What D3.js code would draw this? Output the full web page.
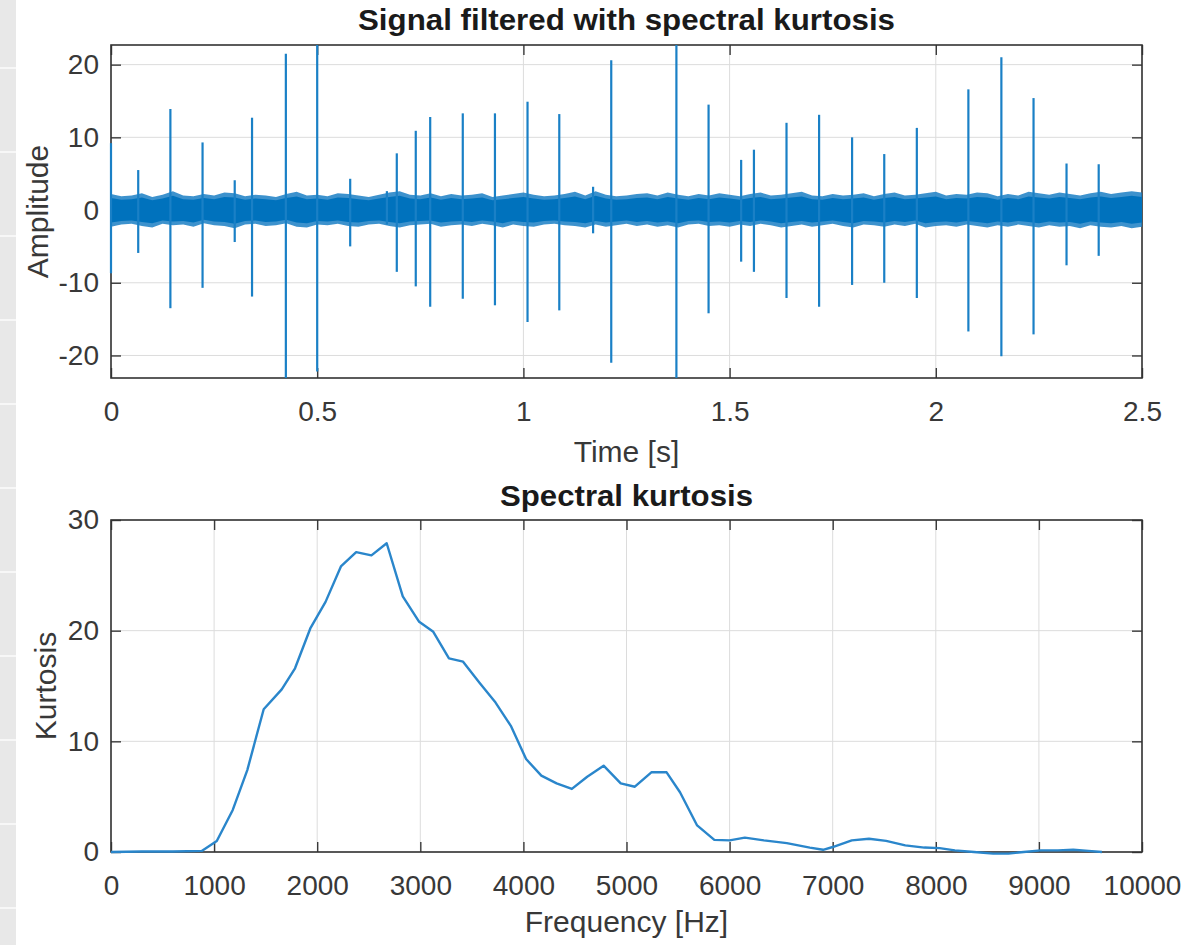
<!DOCTYPE html>
<html>
<head>
<meta charset="utf-8">
<script src="https://cdn.jsdelivr.net/npm/d3@7"></script>
<style>
  body { margin: 0; background: #fff; }
  svg { display: block; font-family: "Liberation Sans", Arial, sans-serif; }
</style>
</head>
<body>
<svg id="chart"></svg>
<script>
// spike events in the filtered signal: time [s], positive peak, negative peak
const spikeTimes = [0.000, 0.066, 0.144, 0.222, 0.300, 0.342, 0.424, 0.500, 0.580, 0.669,
  0.693, 0.739, 0.774, 0.853, 0.931, 1.010, 1.087, 1.169, 1.213, 1.371,
  1.449, 1.528, 1.559, 1.638, 1.717, 1.797, 1.875, 1.954, 2.079, 2.159,
  2.237, 2.317, 2.395];
const spikeHigh = [9.2, 5.5, 13.9, 9.3, 4.1, 12.7, 21.5, 22.7, 4.3, 2.6,
  7.8, 10.9, 12.8, 13.3, 13.3, 14.9, 13.2, 3.2, 20.6, 22.7,
  14.5, 6.9, 8.3, 12.0, 13.1, 10.0, 7.7, 11.3, 16.6, 21.0,
  15.4, 6.4, 6.3];
const spikeLow = [-8.7, -5.9, -13.5, -10.7, -4.4, -11.9, -23.1, -22.2, -5.0, -2.0,
  -8.5, -10.5, -13.3, -12.2, -13.1, -15.4, -13.8, -3.2, -21.0, -23.1,
  -14.2, -7.1, -8.5, -12.1, -13.3, -10.3, -10.0, -12.1, -16.7, -20.1,
  -17.1, -7.6, -6.3];

// background noise band, envelope read every 0.025 s
const noiseTimes = d3.range(0, 101).map(i => i * 0.025);
const noiseUpper = [2.2, 1.9, 2.0, 2.3, 1.8, 2.1, 2.6, 2.0, 1.9, 2.2,
  2.0, 2.4, 2.3, 1.9, 2.1, 2.0, 1.8, 2.2, 2.5, 2.0,
  2.1, 1.9, 2.3, 2.2, 2.0, 1.8, 2.1, 2.4, 2.6, 2.1,
  2.0, 2.3, 1.9, 2.2, 2.0, 2.1, 2.3, 1.8, 2.0, 2.2,
  2.4, 2.1, 1.9, 2.0, 2.2, 2.5, 2.0, 2.6, 2.1, 1.9,
  2.0, 2.2, 2.3, 2.0, 2.4, 2.1, 1.9, 2.2, 2.0, 2.3,
  2.1, 1.9, 2.2, 2.4, 2.0, 2.1, 2.3, 2.5, 2.0, 1.9,
  2.2, 2.0, 2.1, 2.3, 1.9, 2.2, 2.4, 2.0, 2.1, 2.3,
  2.5, 2.0, 2.2, 2.1, 2.4, 2.3, 1.9, 2.2, 2.0, 2.5,
  2.3, 2.1, 2.4, 2.2, 2.0, 2.3, 2.5, 2.2, 2.4, 2.6,
  2.4];
const noiseLower = [-2.3, -2.0, -1.9, -2.2, -2.4, -1.9, -2.1, -2.0, -2.3, -1.8,
  -2.1, -2.2, -2.5, -2.0, -1.9, -2.2, -2.1, -1.8, -2.3, -2.4,
  -2.0, -2.1, -1.9, -2.2, -2.3, -2.0, -1.9, -2.2, -2.4, -2.1,
  -2.0, -1.9, -2.3, -2.1, -2.0, -2.2, -1.9, -2.1, -2.4, -2.0,
  -2.2, -2.3, -2.0, -1.9, -2.1, -2.2, -2.4, -2.0, -2.3, -2.1,
  -1.9, -2.2, -2.0, -2.3, -2.1, -2.4, -2.0, -1.9, -2.2, -2.1,
  -2.3, -2.0, -2.2, -1.9, -2.1, -2.4, -2.2, -2.0, -2.3, -2.1,
  -1.9, -2.2, -2.4, -2.0, -2.1, -2.3, -2.0, -2.2, -1.9, -2.4,
  -2.2, -2.1, -2.3, -2.0, -2.2, -2.4, -2.1, -2.3, -2.0, -2.2,
  -2.4, -2.1, -2.3, -2.2, -2.5, -2.1, -2.3, -2.4, -2.2, -2.5,
  -2.3];

// spectral kurtosis curve
const freqs = [0, 300, 600, 880, 1026, 1181, 1322, 1481, 1656, 1785,
  1933, 2081, 2230, 2378, 2526, 2674, 2830, 2989, 3126, 3278,
  3415, 3574, 3730, 3878, 4026, 4174, 4322, 4470, 4619, 4778,
  4944, 5081, 5241, 5389, 5519, 5685, 5852, 6000, 6148, 6333,
  6555, 6778, 6907, 7000, 7185, 7352, 7518, 7704, 7889, 8037,
  8185, 8370, 8556, 8704, 8852, 9019, 9185, 9333, 9481, 9611];
const kurt = [0.0, 0.05, 0.05, 0.1, 1.0, 3.8, 7.4, 12.9, 14.7, 16.6,
  20.2, 22.6, 25.8, 27.1, 26.8, 27.9, 23.1, 20.8, 19.9, 17.5,
  17.2, 15.3, 13.5, 11.4, 8.4, 6.9, 6.2, 5.7, 6.8, 7.8,
  6.2, 5.9, 7.2, 7.2, 5.4, 2.4, 1.1, 1.05, 1.3, 1.05,
  0.8, 0.4, 0.2, 0.45, 1.05, 1.2, 1.0, 0.6, 0.4, 0.35,
  0.15, 0.0, -0.15, -0.15, 0.0, 0.15, 0.15, 0.2, 0.1, 0.0];

const timeTicks = [0, 0.5, 1, 1.5, 2, 2.5];
const ampTicks = [-20, -10, 0, 10, 20];
const freqTicks = d3.range(0, 10001, 1000);
const kurtTicks = [0, 10, 20, 30];

const width = 1186, height = 945;
const blue = "#0072bd";
const svg = d3.select("#chart").attr("width", width).attr("height", height);

// grey strip at the left edge of the screenshot
svg.append("rect").attr("x", 0).attr("y", 0).attr("width", 16).attr("height", height).attr("fill", "#e8e8e8");
svg.selectAll(".strip-gap")
    .data(d3.range(67, height, 84))
    .enter().append("rect")
    .attr("x", 0).attr("y", d => d).attr("width", 16).attr("height", 2)
    .attr("fill", "#f7f7f7");

function drawAxes(box, x, y, xTicks, yTicks, title, xLabel, yLabel, yLabelX) {
    const g = svg.append("g");
    const w = box.right - box.left, h = box.bottom - box.top;

    // grid
    g.append("g").selectAll("line").data(xTicks).enter().append("line")
        .attr("x1", d => x(d)).attr("x2", d => x(d))
        .attr("y1", box.top).attr("y2", box.bottom)
        .attr("stroke", "#dcdcdc").attr("stroke-width", 1);
    g.append("g").selectAll("line").data(yTicks).enter().append("line")
        .attr("x1", box.left).attr("x2", box.right)
        .attr("y1", d => y(d)).attr("y2", d => y(d))
        .attr("stroke", "#dcdcdc").attr("stroke-width", 1);

    const fmt = d => String(d).replace("\u2212", "-");

    const axes = [
        d3.axisBottom(x).tickValues(xTicks).tickSize(-10).tickPadding(23).tickFormat(fmt),
        d3.axisTop(x).tickValues(xTicks).tickSize(-10).tickFormat(""),
        d3.axisLeft(y).tickValues(yTicks).tickSize(-10).tickPadding(12).tickFormat(fmt),
        d3.axisRight(y).tickValues(yTicks).tickSize(-10).tickFormat("")
    ];
    const shifts = [[0, box.bottom], [0, box.top], [box.left, 0], [box.right, 0]];
    axes.forEach((ax, i) => {
        const a = svg.append("g")
            .attr("transform", `translate(${shifts[i][0]},${shifts[i][1]})`)
            .call(ax);
        a.select(".domain").remove();
        a.selectAll("line").attr("stroke", "#3a3a3a").attr("stroke-width", 1.4);
        a.selectAll("text")
            .attr("font-family", "'Liberation Sans', Arial, sans-serif")
            .attr("font-size", 28).attr("fill", "#383838");
    });

    svg.append("rect")
        .attr("x", box.left).attr("y", box.top).attr("width", w).attr("height", h)
        .attr("fill", "none").attr("stroke", "#333").attr("stroke-width", 1.6);

    const cx = (box.left + box.right) / 2;
    svg.append("text").attr("x", cx).attr("y", title.y)
        .attr("text-anchor", "middle").attr("font-weight", "bold")
        .attr("font-size", 29).attr("fill", "#1a1a1a")
        .attr("textLength", title.len).attr("lengthAdjust", "spacingAndGlyphs")
        .text(title.text);
    svg.append("text").attr("x", cx).attr("y", xLabel.y)
        .attr("text-anchor", "middle").attr("font-size", 30).attr("fill", "#383838")
        .text(xLabel.text);
    const my = (box.top + box.bottom) / 2;
    svg.append("text")
        .attr("transform", `translate(${yLabelX},${my}) rotate(-90)`)
        .attr("text-anchor", "middle").attr("font-size", 30).attr("fill", "#383838")
        .text(yLabel);
}

// top: filtered signal
const box1 = {left: 111, right: 1142, top: 45, bottom: 378};
const x1 = d3.scaleLinear().domain([0, 2.5]).range([box1.left, box1.right]);
const y1 = d3.scaleLinear().domain([-23.1, 22.7]).range([box1.bottom, box1.top]);

// bottom: spectral kurtosis
const box2 = {left: 111, right: 1142, top: 520, bottom: 852};
const x2 = d3.scaleLinear().domain([0, 10000]).range([box2.left, box2.right]);
const y2 = d3.scaleLinear().domain([0, 30]).range([box2.bottom, box2.top]);

drawAxes(box1, x1, y1, timeTicks, ampTicks,
    {text: "Signal filtered with spectral kurtosis", y: 30, len: 537},
    {text: "Time [s]", y: 462}, "Amplitude", 48);
drawAxes(box2, x2, y2, freqTicks, kurtTicks,
    {text: "Spectral kurtosis", y: 506, len: 253},
    {text: "Frequency [Hz]", y: 932}, "Kurtosis", 56);

// signal marks
const sig = svg.append("g");
const noise = noiseTimes.map((t, i) => ({t, hi: noiseUpper[i], lo: noiseLower[i]}));
sig.append("path").datum(noise)
    .attr("fill", "#1b7fc4").attr("fill-opacity", 0.85)
    .attr("d", d3.area().x(d => x1(d.t)).y0(d => y1(d.lo)).y1(d => y1(d.hi)));
sig.append("path").datum(noise)
    .attr("fill", blue)
    .attr("d", d3.area().x(d => x1(d.t)).y0(d => y1(d.lo * 0.75)).y1(d => y1(d.hi * 0.75)));

const spikes = spikeTimes.map((t, i) => ({t, hi: spikeHigh[i], lo: spikeLow[i]}));
sig.selectAll(".spike").data(spikes).enter().append("line")
    .attr("class", "spike")
    .attr("x1", d => x1(d.t)).attr("x2", d => x1(d.t))
    .attr("y1", d => y1(d.hi)).attr("y2", d => y1(d.lo))
    .attr("stroke", "#1a80c6").attr("stroke-width", 2.2);

// kurtosis curve
const kdata = freqs.map((f, i) => ({f, k: kurt[i]}));
svg.append("path").datum(kdata)
    .attr("fill", "none").attr("stroke", "#2a86cb").attr("stroke-width", 2.4)
    .attr("stroke-linejoin", "round")
    .attr("d", d3.line().x(d => x2(d.f)).y(d => y2(d.k)));
</script>
</body>
</html>
